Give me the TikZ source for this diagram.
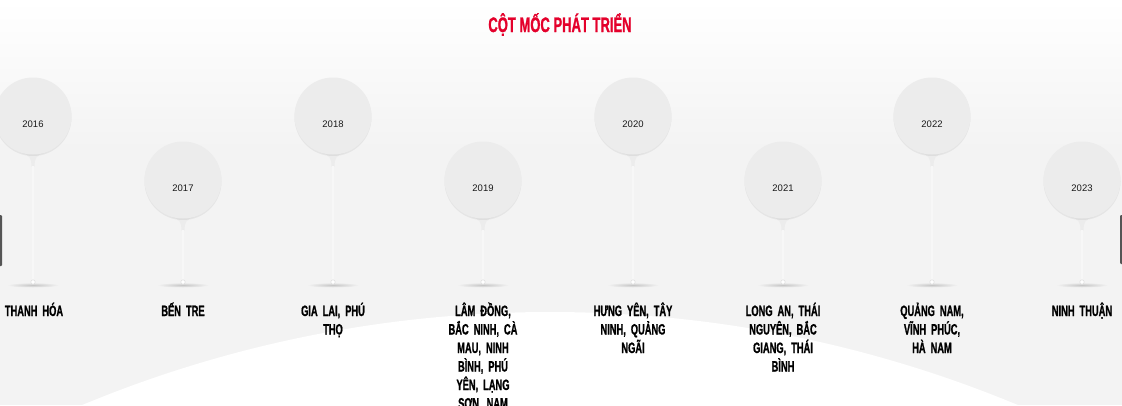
\documentclass[tikz,border=0pt]{standalone}
\usepackage{fontspec}
\setmainfont{Liberation Sans}
\newfontfamily\condfont[FakeStretch=0.62,FakeBold=1]{Liberation Sans}
\usetikzlibrary{shadows}
\definecolor{titlered}{RGB}{228,0,43}
\definecolor{bggray}{RGB}{243,243,243}
\definecolor{balloongray}{RGB}{236,236,236}
\definecolor{stemgray}{RGB}{224,224,224}
\definecolor{tabgray}{RGB}{85,85,85}
\tikzset{
  balloon/.style={circle, fill=balloongray, minimum size=77pt, inner sep=0pt,
    text height=25pt, text depth=2pt, text=black!90,
    font=\fontsize{9.5}{11}\selectfont,
    drop shadow={opacity=0.12, shadow xshift=0pt, shadow yshift=-1.5pt},
    append after command={\pgfextra{
      \fill[balloongray] ([shift={(-13pt,2.2pt)}]\tikzlastnode.south)
        .. controls ([shift={(-3pt,-0.5pt)}]\tikzlastnode.south) and ([shift={(-1.6pt,-3pt)}]\tikzlastnode.south)
        .. ([shift={(-1.5pt,-12pt)}]\tikzlastnode.south)
        -- ([shift={(1.5pt,-12pt)}]\tikzlastnode.south)
        .. controls ([shift={(1.6pt,-3pt)}]\tikzlastnode.south) and ([shift={(3pt,-0.5pt)}]\tikzlastnode.south)
        .. ([shift={(13pt,2.2pt)}]\tikzlastnode.south) -- cycle;}}},
  stem/.style={draw=stemgray, line width=0.8pt, double=white!97!black, double distance=1.1pt},
  tip/.style={fill=white, draw=stemgray, line width=0.6pt},
  floor/.style={inner color=gray!45, outer color=bggray},
  place/.style={anchor=base, align=center, text width=100pt, inner sep=0pt,
    font=\condfont\bfseries\fontsize{15}{18.5}\selectfont}
}
\begin{document}
\begin{tikzpicture}[x=1pt,y=-1pt]
\useasboundingbox (0,0) rectangle (1122,405);
% background
\fill[bggray] (0,0) rectangle (1122,405);
\shade[top color=white, bottom color=bggray] (0,0) rectangle (1122,150);
\begin{scope}
\clip (0,0) rectangle (1122,405);
\fill[white] (550,1531) circle (1219pt);
\end{scope}
\fill[tabgray, rounded corners=1pt] (-3,215) rectangle (2,266);
\fill[tabgray, rounded corners=1pt] (1120,215) rectangle (1125,264);

\node[anchor=base, text=titlered, font=\condfont\bfseries\fontsize{21}{24}\selectfont] (title) at (560,32) {CỘT MỐC PHÁT TRIỂN};

% balloons
\node[balloon] (b2016) at (33,116) {2016};
\node[balloon] (b2017) at (183,180) {2017};
\node[balloon] (b2018) at (333,116) {2018};
\node[balloon] (b2019) at (483,180) {2019};
\node[balloon] (b2020) at (633,116) {2020};
\node[balloon] (b2021) at (783,180) {2021};
\node[balloon] (b2022) at (932,116) {2022};
\node[balloon] (b2023) at (1082,180) {2023};

% stem ends
\coordinate (e2016) at (33,282);
\coordinate (e2017) at (183,282);
\coordinate (e2018) at (333,282);
\coordinate (e2019) at (483,282);
\coordinate (e2020) at (633,282);
\coordinate (e2021) at (783,282);
\coordinate (e2022) at (932,282);
\coordinate (e2023) at (1082,282);

\shade[floor] ([yshift=-3pt]e2016) ellipse (26pt and 2.5pt);
\shade[floor] ([yshift=-3pt]e2017) ellipse (26pt and 2.5pt);
\shade[floor] ([yshift=-3pt]e2018) ellipse (26pt and 2.5pt);
\shade[floor] ([yshift=-3pt]e2019) ellipse (26pt and 2.5pt);
\shade[floor] ([yshift=-3pt]e2020) ellipse (26pt and 2.5pt);
\shade[floor] ([yshift=-3pt]e2021) ellipse (26pt and 2.5pt);
\shade[floor] ([yshift=-3pt]e2022) ellipse (26pt and 2.5pt);
\shade[floor] ([yshift=-3pt]e2023) ellipse (26pt and 2.5pt);

\draw[stem] ([yshift=-11pt]b2016.south) -- (e2016);
\draw[stem] ([yshift=-11pt]b2017.south) -- (e2017);
\draw[stem] ([yshift=-11pt]b2018.south) -- (e2018);
\draw[stem] ([yshift=-11pt]b2019.south) -- (e2019);
\draw[stem] ([yshift=-11pt]b2020.south) -- (e2020);
\draw[stem] ([yshift=-11pt]b2021.south) -- (e2021);
\draw[stem] ([yshift=-11pt]b2022.south) -- (e2022);
\draw[stem] ([yshift=-11pt]b2023.south) -- (e2023);

\filldraw[tip] (e2016) circle (2.2pt);
\filldraw[tip] (e2017) circle (2.2pt);
\filldraw[tip] (e2018) circle (2.2pt);
\filldraw[tip] (e2019) circle (2.2pt);
\filldraw[tip] (e2020) circle (2.2pt);
\filldraw[tip] (e2021) circle (2.2pt);
\filldraw[tip] (e2022) circle (2.2pt);
\filldraw[tip] (e2023) circle (2.2pt);

% places
\node[place] (p2016) at (34,316) {THANH HÓA};
\node[place] (p2017) at (183,316) {BẾN TRE};
\node[place] (p2018) at (333,316) {GIA LAI, PHÚ\\THỌ};
\node[place] (p2019) at (483,316) {LÂM ĐỒNG,\\BẮC NINH, CÀ\\MAU, NINH\\BÌNH, PHÚ\\YÊN, LẠNG\\SƠN, NAM};
\node[place] (p2020) at (633,316) {HƯNG YÊN, TÂY\\NINH, QUẢNG\\NGÃI};
\node[place] (p2021) at (783,316) {LONG AN, THÁI\\NGUYÊN, BẮC\\GIANG, THÁI\\BÌNH};
\node[place] (p2022) at (932,316) {QUẢNG NAM,\\VĨNH PHÚC,\\HÀ NAM};
\node[place] (p2023) at (1082,316) {NINH THUẬN};
\end{tikzpicture}
\end{document}
